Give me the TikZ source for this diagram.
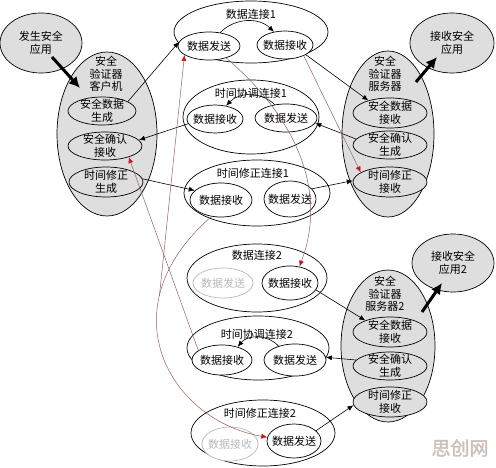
\documentclass[tikz,border=0pt]{standalone}
\usepackage{fontspec}
\setmainfont{Noto Sans CJK SC}
\newfontfamily\wmfont[FakeBold=2]{Noto Sans CJK SC}
\usetikzlibrary{shapes.geometric, arrows.meta}
\definecolor{shade}{RGB}{222,222,222}
\definecolor{faint}{RGB}{185,185,185}
\definecolor{redline}{RGB}{150,95,95}
\definecolor{redtip}{RGB}{200,20,40}
\definecolor{mark}{RGB}{205,192,186}

\begin{document}
\begin{tikzpicture}[x=1pt, y=-1pt,
  every node/.style={font=\fontsize{11}{12.5}\selectfont, align=center},
  blob/.style={ellipse, draw, line width=.7pt, inner sep=-6pt},
  grey/.style={blob, fill=shade},
  part/.style={blob, fill=white},
  unused/.style={blob, fill=white, draw=faint, text=faint},
  flow/.style={-{Latex[length=6pt,width=5pt]}, line width=.6pt},
  fat/.style={-{Latex[length=11pt,width=11pt]}, line width=3pt},
  redflow/.style={-{Latex[length=6pt,width=5pt,color=redtip]}, draw=redline, line width=.5pt},
]
\useasboundingbox (0,0) rectangle (496,468);

% client side
\node[grey, minimum width=82, minimum height=60] (app) at (41,43) {发生安全\\应用};
\node[grey, minimum width=100, minimum height=164] (cli) at (107,134) {};
\node (clititle) at (106,74) {安全\\验证器\\客户机};
\node[grey, minimum width=68, minimum height=28] (cgen) at (102,111) {安全数据\\生成};
\node[grey, minimum width=74, minimum height=28] (cack) at (105,146) {安全确认\\接收};
\node[grey, minimum width=74, minimum height=30] (ctime) at (106,182) {时间修正\\生成};

% connections, first set
\node[part, minimum width=154, minimum height=62] (dc1) at (251,32) {};
\node (dc1t) at (251,14) {数据连接1};
\node[part, minimum width=62, minimum height=28] (dc1s) at (209,46) {数据发送};
\node[part, minimum width=56, minimum height=28] (dc1r) at (285,45) {数据接收};

\node[part, minimum width=136, minimum height=74] (tc1) at (251,117) {};
\node (tc1t) at (251,93) {时间协调连接1};
\node[part, minimum width=56, minimum height=28] (tc1r) at (215,119) {数据接收};
\node[part, minimum width=62, minimum height=28] (tc1s) at (286,118) {数据发送};

\node[part, minimum width=146, minimum height=66] (tm1) at (257,193) {};
\node (tm1t) at (253,173) {时间修正连接1};
\node[part, minimum width=62, minimum height=34] (tm1r) at (221,200) {数据接收};
\node[part, minimum width=52, minimum height=36] (tm1s) at (290,199) {数据发送};

% connections, second set
\node[part, minimum width=140, minimum height=68] (dc2) at (257,278) {};
\node (dc2t) at (257,255) {数据连接2};
\node[unused, minimum width=60, minimum height=30] (dc2s) at (223,283) {数据发送};
\node[part, minimum width=56, minimum height=34] (dc2r) at (290,283) {数据接收};

\node[part, minimum width=142, minimum height=64] (tc2) at (258,348) {};
\node (tc2t) at (257,334) {时间协调连接2};
\node[part, minimum width=60, minimum height=30] (tc2r) at (222,360) {数据接收};
\node[part, minimum width=62, minimum height=32] (tc2s) at (295,360) {数据发送};

\node[part, minimum width=144, minimum height=66] (tm2) at (263,433) {};
\node (tm2t) at (260,413) {时间修正连接2};
\node[unused, minimum width=56, minimum height=34] (tm2r) at (230,444) {数据接收};
\node[part, minimum width=54, minimum height=34] (tm2s) at (294,441) {数据发送};

% servers
\node[grey, minimum width=92, minimum height=166] (srv1) at (388,134) {};
\node (srv1t) at (385,74) {安全\\验证器\\服务器};
\node[grey, minimum width=74, minimum height=30] (srv1r) at (390,113) {安全数据\\接收};
\node[grey, minimum width=74, minimum height=28] (srv1a) at (390,145) {安全确认\\生成};
\node[grey, minimum width=74, minimum height=30] (srv1c) at (390,182) {时间修正\\接收};
\node[grey, minimum width=84, minimum height=60] (rapp1) at (452,43) {接收安全\\应用};

\node[grey, minimum width=94, minimum height=152] (srv2) at (388,346) {};
\node (srv2t) at (385,294) {安全\\验证器\\服务器2};
\node[grey, minimum width=74, minimum height=30] (srv2r) at (390,332) {安全数据\\接收};
\node[grey, minimum width=74, minimum height=28] (srv2a) at (390,366) {安全确认\\生成};
\node[grey, minimum width=74, minimum height=30] (srv2c) at (390,402) {时间修正\\接收};
\node[grey, minimum width=82, minimum height=58] (rapp2) at (453,263) {接收安全\\应用2};

\node[font=\wmfont\fontsize{19}{19}\selectfont, text=mark] (wm) at (460,448) {思创网};

% black arrows
\draw[fat] ([shift={(11,14)}]app.center) -- ([shift={(-27,-46)}]cli.center);
\draw[fat] ([shift={(28,-52)}]srv1.center) -- ([shift={(-15,14)}]rapp1.center);
\draw[fat] ([shift={(34,-34)}]srv2.center) -- ([shift={(-11,20)}]rapp2.center);

\draw[flow] (cgen.20) -- (dc1s.172);
\draw[flow] (dc1r.-25) -- (srv1r.150);
\draw[flow] (srv1a.170) -- (tc1s.-10);
\draw[flow] (tc1r.190) -- (cack.10);
\draw[flow] (ctime.5) -- (tm1r.160);
\draw[flow] (tm1s.25) -- (srv1c.178);
\draw[flow] (dc2r.-15) -- (srv2r.155);
\draw[flow] (srv2a.170) -- (tc2s.5);
\draw[flow] (tm2s.25) -- (srv2c.185);

\draw[flow] (dc1s.50) to[bend left=45] (dc1r.130);
\draw[flow] (tc1s.130) to[bend right=45] (tc1r.50);
\draw[flow] (tc2s.140) to[bend right=50] (tc2r.40);

% red arrows
\draw[redflow] (dc1s.-35) .. controls +(65,55) and +(30,-80) .. (dc2r.60);
\draw[redflow] (dc1r.-30) -- (srv1c.162);
\draw[redflow] (tc2r.158) -- (cack.-25);
\draw[redflow] (tm1r.-120) .. controls +(-106,92) and +(-98,-17) .. coordinate[pos=.28] (join) (tm2s.172);
\draw[redflow] (join) -- (dc1s.200);
\end{tikzpicture}
\end{document}
